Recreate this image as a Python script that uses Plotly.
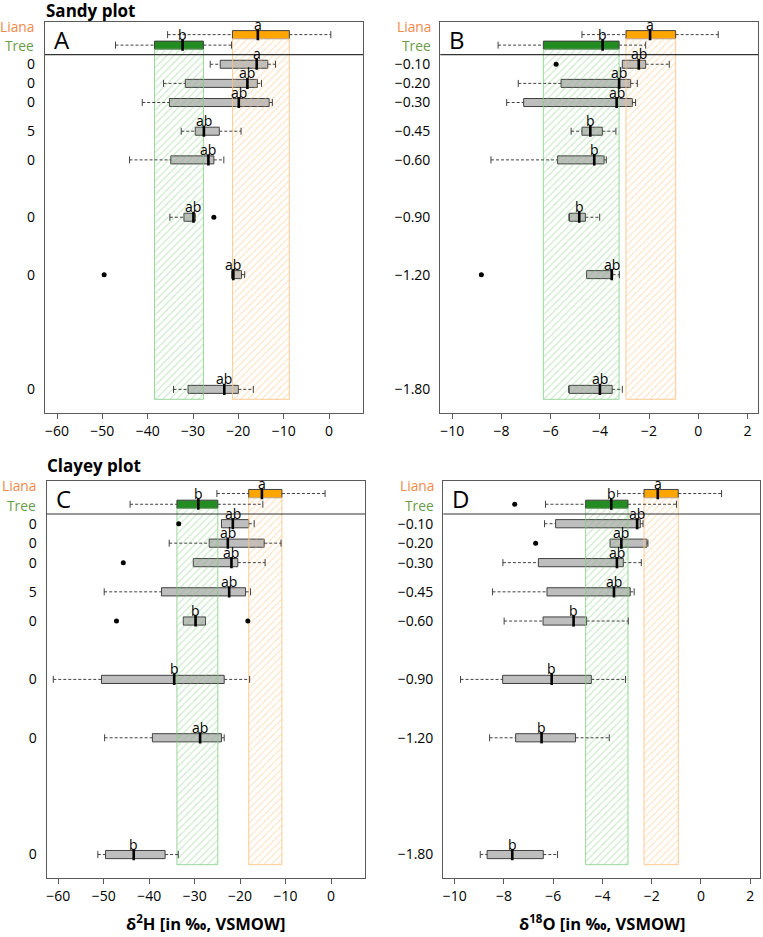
import plotly.graph_objects as go

# ---------------- data ----------------
DEPTHS = [-0.10, -0.20, -0.30, -0.45, -0.60, -0.90, -1.20, -1.80]
DEPTH_LABELS = ["−0.10", "−0.20", "−0.30", "−0.45", "−0.60", "−0.90", "−1.20", "−1.80"]
PLANT_LABELS = ["Liana", "Tree"]
H_TICKS = [-60, -50, -40, -30, -20, -10, 0]
O_TICKS = [-10, -8, -6, -4, -2, 0, 2]

# stats order: [lower whisker, q1, median, q3, upper whisker]
# Panel A : sandy plot, d2H
A_LIANA = [-35.6, -21.3, -15.7, -8.75, 0.4]
A_TREE = [-47.1, -38.5, -32.3, -27.7, -21.5]
A_PLANT_LETTERS = ["a", "b"]
A_LOW = [-26.2, -36.5, -41.2, -32.6, -44.0, -35.1, -21.5, -34.3]
A_Q1 = [-24.0, -31.7, -35.2, -29.5, -34.9, -32.0, -21.5, -31.1]
A_MED = [-15.95, -18.0, -19.9, -27.6, -26.6, -29.9, -21.1, -23.1]
A_Q3 = [-13.5, -15.8, -13.2, -24.2, -25.4, -29.5, -19.3, -20.0]
A_HIGH = [-11.8, -14.9, -12.5, -19.4, -23.2, -29.5, -18.6, -16.7]
A_LETTERS = ["a", "ab", "ab", "ab", "ab", "ab", "ab", "ab"]
A_OUT_X = [-25.4, -49.6]
A_OUT_Y = [-0.90, -1.20]
A_OUT_PLANT_X = []
A_OUT_PLANT = []

# Panel B : sandy plot, d18O
B_LIANA = [-4.73, -2.94, -1.96, -0.92, 0.81]
B_TREE = [-8.14, -6.3, -3.89, -3.22, -2.14]
B_PLANT_LETTERS = ["a", "b"]
B_LOW = [-3.09, -7.32, -7.79, -5.17, -8.43, -5.26, -4.54, -5.27]
B_Q1 = [-3.09, -5.58, -7.10, -4.73, -5.72, -5.24, -4.54, -5.25]
B_MED = [-2.42, -3.22, -3.32, -4.39, -4.23, -4.84, -3.52, -4.0]
B_Q3 = [-2.14, -2.75, -2.68, -3.90, -3.83, -4.59, -3.48, -3.50]
B_HIGH = [-1.18, -2.48, -2.55, -3.35, -3.74, -4.01, -3.21, -3.09]
B_LETTERS = ["ab", "ab", "ab", "b", "b", "b", "ab", "ab"]
B_OUT_X = [-5.78, -8.82]
B_OUT_Y = [-0.10, -1.20]
B_OUT_PLANT_X = []
B_OUT_PLANT = []

# Panel C : clayey plot, d2H
C_LIANA = [-25.1, -18.1, -15.2, -10.8, -1.3]
C_TREE = [-44.2, -33.9, -29.2, -24.9, -15.0]
C_PLANT_LETTERS = ["a", "b"]
C_LOW = [-24.1, -35.6, -30.3, -49.9, -32.5, -61.1, -49.8, -51.3]
C_Q1 = [-24.1, -26.8, -30.3, -37.3, -32.5, -50.5, -39.3, -49.6]
C_MED = [-21.6, -22.7, -21.9, -22.4, -29.8, -34.5, -28.8, -43.4]
C_Q3 = [-18.1, -14.7, -20.5, -18.8, -27.6, -23.5, -24.1, -36.5]
C_HIGH = [-16.9, -11.0, -14.5, -17.7, -27.6, -17.9, -23.5, -33.6]
C_LETTERS = ["ab", "ab", "ab", "ab", "b", "b", "ab", "b"]
C_OUT_X = [-33.5, -45.7, -47.2, -18.3]
C_OUT_Y = [-0.10, -0.30, -0.60, -0.60]
C_OUT_PLANT_X = []
C_OUT_PLANT = []

# Panel D : clayey plot, d18O
D_LIANA = [-3.38, -2.31, -1.75, -0.92, 0.84]
D_TREE = [-6.31, -4.68, -3.64, -2.96, -0.99]
D_PLANT_LETTERS = ["a", "b"]
D_LOW = [-6.35, -3.69, -8.04, -8.46, -7.99, -9.76, -8.58, -8.96]
D_Q1 = [-5.9, -3.69, -6.6, -6.25, -6.41, -8.05, -7.52, -8.68]
D_MED = [-2.59, -3.23, -3.41, -3.53, -5.17, -6.06, -6.47, -7.66]
D_Q3 = [-2.46, -2.19, -3.15, -2.87, -4.64, -4.45, -5.09, -6.40]
D_HIGH = [-2.35, -2.15, -2.42, -2.71, -2.95, -3.06, -3.72, -5.82]
D_LETTERS = ["ab", "ab", "ab", "ab", "b", "b", "b", "b"]
D_OUT_X = [-6.71]
D_OUT_Y = [-0.20]
D_OUT_PLANT_X = [-7.56]
D_OUT_PLANT = ["Tree"]

# ---------------- layout constants ----------------
W, H = 763, 937
LIANA_Y, TREE_Y = 0.055, 0.0          # box positions of the plant rows
LABEL_Y = [0.097, -0.004]             # text positions of the Liana / Tree labels
SEP_Y = -0.05
BAND_BOTTOM = -1.852
Y_RANGE = [-1.922, 0.121]
BOX_W = 0.042
FONT = "Open Sans"
EDGE = "#404040"
FRAME = "#5a5a5a"
LABEL_COLORS = ["#F0894A", "#6A9B48"]
LIANA_FILL = "#FFA500"
TREE_FILL = "#228B22"
SOIL_FILL = "#BEBEBE"


def px_dom_x(a, b):
    return [a / W, b / W]


def px_dom_y(top, bottom):
    return [1 - bottom / H, 1 - top / H]


def px_x(a):
    return a / W


def px_y(a):
    return 1 - a / H


panels = [
    dict(letter="A", liana=A_LIANA, tree=A_TREE, pl=A_PLANT_LETTERS, low=A_LOW, q1=A_Q1, med=A_MED,
         q3=A_Q3, high=A_HIGH, let=A_LETTERS, ox=A_OUT_X, oy=A_OUT_Y, opx=A_OUT_PLANT_X, op=A_OUT_PLANT,
         xd=px_dom_x(45, 363), yd=px_dom_y(22, 412.7), xr=[-62.65, 7.5], ticks=H_TICKS, left=True),
    dict(letter="B", liana=B_LIANA, tree=B_TREE, pl=B_PLANT_LETTERS, low=B_LOW, q1=B_Q1, med=B_MED,
         q3=B_Q3, high=B_HIGH, let=B_LETTERS, ox=B_OUT_X, oy=B_OUT_Y, opx=B_OUT_PLANT_X, op=B_OUT_PLANT,
         xd=px_dom_x(440.3, 758.3), yd=px_dom_y(22, 412.7), xr=[-10.49, 2.44], ticks=O_TICKS, left=False),
    dict(letter="C", liana=C_LIANA, tree=C_TREE, pl=C_PLANT_LETTERS, low=C_LOW, q1=C_Q1, med=C_MED,
         q3=C_Q3, high=C_HIGH, let=C_LETTERS, ox=C_OUT_X, oy=C_OUT_Y, opx=C_OUT_PLANT_X, op=C_OUT_PLANT,
         xd=px_dom_x(46.7, 365), yd=px_dom_y(480.7, 878.3), xr=[-62.55, 7.48], ticks=H_TICKS, left=True),
    dict(letter="D", liana=D_LIANA, tree=D_TREE, pl=D_PLANT_LETTERS, low=D_LOW, q1=D_Q1, med=D_MED,
         q3=D_Q3, high=D_HIGH, let=D_LETTERS, ox=D_OUT_X, oy=D_OUT_Y, opx=D_OUT_PLANT_X, op=D_OUT_PLANT,
         xd=px_dom_x(443.3, 760), yd=px_dom_y(480.7, 878.3), xr=[-10.46, 2.40], ticks=O_TICKS, left=False),
]

fig = go.Figure()
annotations = []
shapes = []
layout_axes = {}

for i, p in enumerate(panels, start=1):
    xa = "x" if i == 1 else f"x{i}"
    ya = "y" if i == 1 else f"y{i}"
    xkey = "xaxis" if i == 1 else f"xaxis{i}"
    ykey = "yaxis" if i == 1 else f"yaxis{i}"

    # hatched bands from plant IQRs
    for stats, ypos, fg, ln in [(p["tree"], TREE_Y, "rgba(110,195,110,0.75)", "rgba(130,205,130,0.8)"),
                                (p["liana"], LIANA_Y, "rgba(248,185,110,0.8)", "rgba(250,195,130,0.85)")]:
        top = ypos - BOX_W / 2
        fig.add_trace(go.Scatter(
            x=[stats[1], stats[3], stats[3], stats[1], stats[1]],
            y=[top, top, BAND_BOTTOM, BAND_BOTTOM, top],
            mode="lines", fill="toself", xaxis=xa, yaxis=ya,
            line=dict(color=ln, width=1),
            fillcolor="rgba(0,0,0,0)",
            fillpattern=dict(shape="/", fgcolor=fg, bgcolor="rgba(255,255,255,0)", size=5, solidity=0.22),
            hoverinfo="skip", showlegend=False))

    # collect all boxes: plants + soil depths
    ys = [LIANA_Y, TREE_Y] + DEPTHS
    lows = [p["liana"][0], p["tree"][0]] + p["low"]
    q1s = [p["liana"][1], p["tree"][1]] + p["q1"]
    meds = [p["liana"][2], p["tree"][2]] + p["med"]
    q3s = [p["liana"][3], p["tree"][3]] + p["q3"]
    highs = [p["liana"][4], p["tree"][4]] + p["high"]
    letters = p["pl"] + p["let"]

    # dashed whiskers
    wx, wy, cx, cy = [], [], [], []
    for yv, lo, a, b, hi in zip(ys, lows, q1s, q3s, highs):
        if lo < a:
            wx += [lo, a, None]; wy += [yv, yv, None]
            cx.append(lo); cy.append(yv)
        if hi > b:
            wx += [b, hi, None]; wy += [yv, yv, None]
            cx.append(hi); cy.append(yv)
    fig.add_trace(go.Scatter(x=wx, y=wy, mode="lines", xaxis=xa, yaxis=ya,
                             line=dict(color=EDGE, width=1, dash="3px,2px"),
                             hoverinfo="skip", showlegend=False))
    fig.add_trace(go.Scatter(x=cx, y=cy, mode="markers", xaxis=xa, yaxis=ya,
                             marker=dict(symbol="line-ns", size=5, line=dict(color=EDGE, width=1)),
                             hoverinfo="skip", showlegend=False))

    # boxes
    for sel, fill in [([0], LIANA_FILL), ([1], TREE_FILL), (list(range(2, len(ys))), SOIL_FILL)]:
        fig.add_trace(go.Box(
            orientation="h", xaxis=xa, yaxis=ya,
            y=[ys[k] for k in sel],
            q1=[q1s[k] for k in sel], median=[meds[k] for k in sel], q3=[q3s[k] for k in sel],
            lowerfence=[q1s[k] for k in sel], upperfence=[q3s[k] for k in sel],
            width=BOX_W, fillcolor=fill, line=dict(color=EDGE, width=1), whiskerwidth=0,
            boxpoints=False, hoverinfo="skip", showlegend=False))

    # thick medians
    fig.add_trace(go.Scatter(x=meds, y=ys, mode="markers", xaxis=xa, yaxis=ya,
                             marker=dict(symbol="line-ns", size=8, line=dict(color="black", width=2.6)),
                             hoverinfo="skip", showlegend=False))

    # outliers
    plant_y = {"Liana": LIANA_Y, "Tree": TREE_Y}
    fig.add_trace(go.Scatter(x=p["ox"] + p["opx"], y=p["oy"] + [plant_y[n] for n in p["op"]],
                             mode="markers", xaxis=xa, yaxis=ya,
                             marker=dict(symbol="circle", size=5, color="black"),
                             hoverinfo="skip", showlegend=False))

    # significance letters
    for yv, m, t in zip(ys, meds, letters):
        annotations.append(dict(x=m, y=yv, xref=xa, yref=ya, text=t, showarrow=False,
                                yanchor="bottom", yshift=-1, font=dict(family=FONT, size=14, color="black")))

    # Liana / Tree row labels
    for lab, ly, col in zip(PLANT_LABELS, LABEL_Y, LABEL_COLORS):
        annotations.append(dict(x=0, y=ly, xref=f"{xa} domain", yref=ya, text=lab, showarrow=False,
                                xanchor="right", yanchor="middle", xshift=-9 if p["left"] else -7,
                                font=dict(family=FONT, size=13.8, color=col)))

    # panel letter
    annotations.append(dict(x=0.022, y=0.955, xref=f"{xa} domain", yref=f"{ya} domain", text=p["letter"],
                            showarrow=False, xanchor="left", yanchor="middle",
                            font=dict(family=FONT, size=24, color="black")))

    # separator line between plants and soil
    shapes.append(dict(type="line", xref=f"{xa} domain", yref=ya, x0=0, x1=1, y0=SEP_Y, y1=SEP_Y,
                       line=dict(color="#333333", width=1.2)))

    depth_text = [lab[-1] for lab in DEPTH_LABELS] if p["left"] else DEPTH_LABELS

    layout_axes[xkey] = dict(domain=p["xd"], range=p["xr"], anchor=ya, tickmode="array",
                             tickvals=p["ticks"], ticks="outside", ticklen=5, tickcolor=FRAME,
                             showline=True, mirror=True, linecolor=FRAME, linewidth=1.3,
                             showgrid=False, zeroline=False,
                             tickfont=dict(family=FONT, size=14, color="black"))
    layout_axes[ykey] = dict(domain=p["yd"], range=Y_RANGE, anchor=xa, tickmode="array",
                             tickvals=DEPTHS, ticktext=depth_text, ticks="",
                             ticklabelstandoff=6,
                             showline=True, mirror=True, linecolor=FRAME, linewidth=1.3,
                             showgrid=False, zeroline=False,
                             tickfont=dict(family=FONT, size=14, color="black"))

# titles
annotations.append(dict(x=px_x(44), y=px_y(10), xref="paper", yref="paper", text="<b>Sandy plot</b>",
                        showarrow=False, xanchor="left", yanchor="middle",
                        font=dict(family=FONT, size=17, color="black")))
annotations.append(dict(x=px_x(45), y=px_y(465), xref="paper", yref="paper", text="<b>Clayey plot</b>",
                        showarrow=False, xanchor="left", yanchor="middle",
                        font=dict(family=FONT, size=17, color="black")))
annotations.append(dict(x=px_x(206), y=px_y(923), xref="paper", yref="paper",
                        text="<b>δ<sup>2</sup>H [in ‰, VSMOW]</b>",
                        showarrow=False, xanchor="center", yanchor="middle",
                        font=dict(family=FONT, size=16.5, color="black")))
annotations.append(dict(x=px_x(602), y=px_y(923), xref="paper", yref="paper",
                        text="<b>δ<sup>18</sup>O [in ‰, VSMOW]</b>",
                        showarrow=False, xanchor="center", yanchor="middle",
                        font=dict(family=FONT, size=16.5, color="black")))

fig.update_layout(width=W, height=H, margin=dict(l=0, r=0, t=0, b=0),
                  paper_bgcolor="white", plot_bgcolor="white", boxmode="overlay",
                  showlegend=False, annotations=annotations, shapes=shapes,
                  font=dict(family=FONT, color="black"), **layout_axes)

fig.write_html("out.html", config={"displayModeBar": False},
               post_script="document.body.style.margin='0px';")
